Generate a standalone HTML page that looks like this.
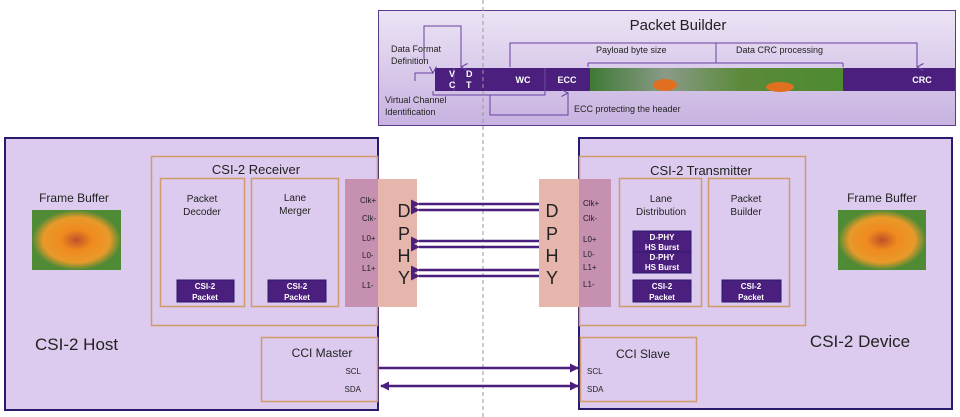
<!DOCTYPE html>
<html><head><style>body{margin:0;background:#fff}svg{display:block}text{font-family:"Liberation Sans",sans-serif}</style></head><body>
<svg width="960" height="417" viewBox="0 0 960 417" xmlns="http://www.w3.org/2000/svg">
<defs>
<linearGradient id="pb" x1="0" y1="0" x2="0" y2="1"><stop offset="0" stop-color="#ece4f5"/><stop offset="1" stop-color="#c7b2e0"/></linearGradient>
<linearGradient id="img" x1="0" y1="0" x2="1" y2="0"><stop offset="0" stop-color="#3f7a35"/><stop offset="0.3" stop-color="#8a9a88"/><stop offset="0.6" stop-color="#5a8a3a"/><stop offset="1" stop-color="#4e8a30"/></linearGradient>
<radialGradient id="fl" cx="0.5" cy="0.5" r="0.5"><stop offset="0" stop-color="#c0502a"/><stop offset="0.35" stop-color="#f08a1e"/><stop offset="0.75" stop-color="#e89a2a"/><stop offset="1" stop-color="#4f8a35"/></radialGradient>
<marker id="al" markerUnits="userSpaceOnUse" markerWidth="9" markerHeight="9" refX="1" refY="4.5" orient="auto"><path d="M9,0 L0,4.5 L9,9 z" fill="#4b1f7d"/></marker>
<marker id="ar" markerUnits="userSpaceOnUse" markerWidth="9" markerHeight="9" refX="8" refY="4.5" orient="auto"><path d="M0,0 L9,4.5 L0,9 z" fill="#4b1f7d"/></marker>
<marker id="sa" markerUnits="userSpaceOnUse" markerWidth="8" markerHeight="8" refX="4" refY="7" orient="auto"><path d="M0.5,0.5 L4,7 L7.5,0.5" fill="none" stroke="#6a3fa0" stroke-width="1"/></marker>
</defs>

<rect x="378.5" y="10.5" width="577" height="115" fill="url(#pb)" stroke="#5a3a8a"/>
<text x="678" y="30" font-size="15" fill="#222" text-anchor="middle">Packet Builder</text>
<rect x="435" y="68" width="520" height="23" fill="#4b1f7d"/>
<rect x="590" y="68" width="253" height="23" fill="url(#img)"/>
<ellipse cx="665" cy="85" rx="12" ry="6" fill="#e07020"/><ellipse cx="780" cy="87" rx="14" ry="5" fill="#e07020"/>
<line x1="454" y1="68" x2="454" y2="91" stroke="#7a5aa8" stroke-width="0.8"/>
<line x1="545" y1="68" x2="545" y2="91" stroke="#7a5aa8" stroke-width="0.8"/>
<text x="449" y="77" font-size="9" font-weight="bold" fill="#fff">V</text><text x="449" y="88" font-size="9" font-weight="bold" fill="#fff">C</text>
<text x="466" y="77" font-size="9" font-weight="bold" fill="#fff">D</text><text x="466" y="88" font-size="9" font-weight="bold" fill="#fff">T</text>
<text x="523" y="83" font-size="9" font-weight="bold" fill="#fff" text-anchor="middle">WC</text>
<text x="567" y="83" font-size="9" font-weight="bold" fill="#fff" text-anchor="middle">ECC</text>
<text x="922" y="83" font-size="9" font-weight="bold" fill="#fff" text-anchor="middle">CRC</text>
<g fill="none" stroke="#6a3fa0" stroke-width="1">
<path d="M424,60 V26 H461 V67" marker-end="url(#sa)"/>
<path d="M415,81 V73 H433" marker-end="url(#sa)"/>
<path d="M510,67 V43 H917 V67" marker-end="url(#sa)"/>
<path d="M716,43 V63 M588,63 H843 M588,63 V67 M843,63 V67"/>
<path d="M433,91 V95 H545 V91 M490,95 V115 H568 V93" marker-end="url(#sa)"/>
</g>
<g font-size="9" fill="#222">
<text x="391" y="52">Data Format</text><text x="391" y="64">Definition</text>
<text x="385" y="103">Virtual Channel</text><text x="385" y="115">Identification</text>
<text x="596" y="53">Payload byte size</text>
<text x="736" y="53">Data CRC processing</text>
<text x="574" y="112">ECC protecting the header</text>
</g>

<rect x="5" y="138" width="373" height="272" fill="#dccbee" stroke="#2a1a6e" stroke-width="2"/>
<rect x="151.5" y="156.5" width="226" height="169" fill="none" stroke="#d09a6a" stroke-width="1.5"/>
<text x="256" y="174" font-size="13" fill="#222" text-anchor="middle">CSI-2 Receiver</text>
<rect x="160.5" y="178.5" width="84" height="128" fill="none" stroke="#d09a6a" stroke-width="1.5"/>
<rect x="251.5" y="178.5" width="87" height="128" fill="none" stroke="#d09a6a" stroke-width="1.5"/>
<text x="202" y="202" font-size="10" fill="#222" text-anchor="middle">Packet</text><text x="202" y="215" font-size="10" fill="#222" text-anchor="middle">Decoder</text>
<text x="295" y="201" font-size="10" fill="#222" text-anchor="middle">Lane</text><text x="295" y="214" font-size="10" fill="#222" text-anchor="middle">Merger</text>
<rect x="177" y="280" width="57" height="22" fill="#4b1f7d" stroke="#2a1a6e"/>
<rect x="268" y="280" width="58" height="22" fill="#4b1f7d" stroke="#2a1a6e"/>
<g font-size="8" font-weight="bold" fill="#fff" text-anchor="middle">
<text x="205" y="289">CSI-2</text><text x="205" y="300">Packet</text>
<text x="297" y="289">CSI-2</text><text x="297" y="300">Packet</text></g>
<text x="74" y="202" font-size="12" fill="#222" text-anchor="middle">Frame Buffer</text>
<rect x="32" y="210" width="89" height="60" fill="url(#fl)"/>
<text x="35" y="350" font-size="17" fill="#222">CSI-2 Host</text>
<rect x="261.5" y="337.5" width="116" height="64" fill="none" stroke="#d09a6a" stroke-width="1.5"/>
<text x="322" y="357" font-size="12" fill="#222" text-anchor="middle">CCI Master</text>
<text x="361" y="374" font-size="8" fill="#222" text-anchor="end">SCL</text>
<text x="361" y="392" font-size="8" fill="#222" text-anchor="end">SDA</text>

<rect x="579" y="138" width="373" height="271" fill="#dccbee" stroke="#2a1a6e" stroke-width="2"/>
<rect x="579.5" y="156.5" width="226" height="169" fill="none" stroke="#d09a6a" stroke-width="1.5"/>
<text x="701" y="175" font-size="13" fill="#222" text-anchor="middle">CSI-2 Transmitter</text>
<rect x="619.5" y="178.5" width="82" height="128" fill="none" stroke="#d09a6a" stroke-width="1.5"/>
<rect x="708.5" y="178.5" width="81" height="128" fill="none" stroke="#d09a6a" stroke-width="1.5"/>
<text x="661" y="202" font-size="10" fill="#222" text-anchor="middle">Lane</text><text x="661" y="215" font-size="10" fill="#222" text-anchor="middle">Distribution</text>
<text x="746" y="202" font-size="10" fill="#222" text-anchor="middle">Packet</text><text x="746" y="215" font-size="10" fill="#222" text-anchor="middle">Builder</text>
<rect x="633" y="231" width="58" height="42" fill="#4b1f7d" stroke="#2a1a6e"/>
<line x1="633" y1="252" x2="691" y2="252" stroke="#2a1a6e"/>
<rect x="633" y="280" width="58" height="22" fill="#4b1f7d" stroke="#2a1a6e"/>
<rect x="722" y="280" width="59" height="22" fill="#4b1f7d" stroke="#2a1a6e"/>
<g font-size="8" font-weight="bold" fill="#fff" text-anchor="middle">
<text x="662" y="240">D-PHY</text><text x="662" y="250">HS Burst</text>
<text x="662" y="260">D-PHY</text><text x="662" y="270">HS Burst</text>
<text x="662" y="289">CSI-2</text><text x="662" y="300">Packet</text>
<text x="751" y="289">CSI-2</text><text x="751" y="300">Packet</text></g>
<text x="882" y="202" font-size="12" fill="#222" text-anchor="middle">Frame Buffer</text>
<rect x="838" y="210" width="88" height="60" fill="url(#fl)"/>
<text x="860" y="347" font-size="17" fill="#222" text-anchor="middle">CSI-2 Device</text>
<rect x="580.5" y="337.5" width="116" height="64" fill="none" stroke="#d09a6a" stroke-width="1.5"/>
<text x="643" y="358" font-size="12" fill="#222" text-anchor="middle">CCI Slave</text>
<text x="587" y="374" font-size="8" fill="#222">SCL</text>
<text x="587" y="392" font-size="8" fill="#222">SDA</text>

<rect x="345" y="179" width="33" height="128" fill="#c690b0"/>
<rect x="378" y="179" width="39" height="128" fill="#e6b6ac"/>
<rect x="539" y="179" width="40" height="128" fill="#e6b6ac"/>
<rect x="579" y="179" width="32" height="128" fill="#c690b0"/>
<g font-size="18" fill="#222" text-anchor="middle">
<text x="404" y="217">D</text><text x="404" y="240">P</text><text x="404" y="262">H</text><text x="404" y="284">Y</text>
<text x="552" y="217">D</text><text x="552" y="240">P</text><text x="552" y="262">H</text><text x="552" y="284">Y</text></g>
<g font-size="8" fill="#222">
<text x="360" y="203">Clk+</text><text x="362" y="221">Clk-</text><text x="362" y="241">L0+</text><text x="362" y="258">L0-</text><text x="362" y="271">L1+</text><text x="362" y="288">L1-</text>
<text x="583" y="206">Clk+</text><text x="583" y="221">Clk-</text><text x="583" y="242">L0+</text><text x="583" y="257">L0-</text><text x="583" y="270">L1+</text><text x="583" y="287">L1-</text></g>

<line x1="483" y1="0" x2="483" y2="417" stroke="#999" stroke-dasharray="4,3" stroke-width="1"/>

<g stroke="#4b1f7d" stroke-width="2.5" fill="none">
<line x1="539" y1="204" x2="419" y2="204" marker-end="url(#al)"/>
<line x1="539" y1="210" x2="419" y2="210" marker-end="url(#al)"/>
<line x1="539" y1="241" x2="419" y2="241" marker-end="url(#al)"/>
<line x1="539" y1="247" x2="419" y2="247" marker-end="url(#al)"/>
<line x1="539" y1="270" x2="419" y2="270" marker-end="url(#al)"/>
<line x1="539" y1="276" x2="419" y2="276" marker-end="url(#al)"/>
<line x1="379" y1="368" x2="578" y2="368" marker-end="url(#ar)"/>
<line x1="381" y1="386" x2="578" y2="386" marker-start="url(#al)" marker-end="url(#ar)"/>
</g>
</svg>
</body></html>
